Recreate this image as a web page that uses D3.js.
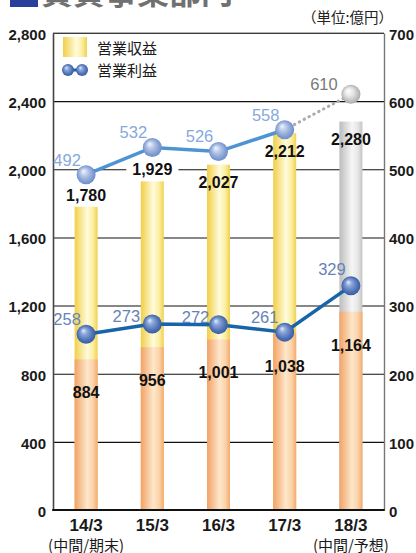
<!DOCTYPE html>
<html>
<head>
<meta charset="utf-8">
<script src="https://cdn.jsdelivr.net/npm/d3@7"></script>
<style>
  html, body { margin: 0; padding: 0; background: #fff; }
  svg { display: block; }
  text { font-family: "Liberation Sans", Arial, "Noto Sans CJK JP", sans-serif; }
  .jp { font-family: "Noto Sans CJK JP", "Noto Sans", sans-serif; }
</style>
</head>
<body>
<script>
// Fiscal periods and sub-captions
const categories = ["14/3", "15/3", "16/3", "17/3", "18/3"];
const subCaptions = ["(中間/期末)", "", "", "", "(中間/予想)"];

// Operating revenue (億円): full year and interim; the last full-year value is a forecast
const revenueFull = [1780, 1929, 2027, 2212, 2280];
const revenueInterim = [884, 956, 1001, 1038, 1164];

// Operating profit (億円): full year and interim; the last full-year value is a forecast
const profitFull = [492, 532, 526, 558, 610];
const profitInterim = [258, 273, 272, 261, 329];

// Axis ticks
const leftTicks = [0, 400, 800, 1200, 1600, 2000, 2400, 2800];
const rightTicks = [0, 100, 200, 300, 400, 500, 600, 700];

const W = 416, H = 553;
const plot = { left: 53, right: 384, top: 33, bottom: 510 };
const forecastIndex = 4;

const svg = d3.select("body").append("svg").attr("width", W).attr("height", H);
const defs = svg.append("defs");

function hGrad(id, stops) {
  const g = defs.append("linearGradient").attr("id", id)
    .attr("x1", "0%").attr("x2", "100%").attr("y1", "0%").attr("y2", "0%");
  stops.forEach(([o, c]) => g.append("stop").attr("offset", o).attr("stop-color", c));
}
function ball(id, stops) {
  const g = defs.append("radialGradient").attr("id", id)
    .attr("cx", "50%").attr("cy", "50%").attr("r", "55%")
    .attr("fx", "35%").attr("fy", "30%");
  stops.forEach(([o, c]) => g.append("stop").attr("offset", o).attr("stop-color", c));
}
hGrad("gYellow", [["0%", "#f1cf45"], ["55%", "#fffbdc"], ["80%", "#fbeea0"], ["100%", "#f0d04e"]]);
hGrad("gOrange", [["0%", "#f2a266"], ["55%", "#fde7cb"], ["80%", "#fbd3a8"], ["100%", "#f3aa70"]]);
hGrad("gGray", [["0%", "#bcbcbc"], ["55%", "#f6f6f6"], ["80%", "#e6e6e6"], ["100%", "#c4c4c4"]]);
ball("bLight", [["0%", "#f4f7fc"], ["35%", "#b7c8e8"], ["80%", "#7b98d0"], ["100%", "#6a88c4"]]);
ball("bDark", [["0%", "#e6edf9"], ["30%", "#8aa6da"], ["75%", "#4a6db2"], ["100%", "#34589f"]]);
ball("bGray", [["0%", "#ffffff"], ["40%", "#e6e6e6"], ["85%", "#b4b4b4"], ["100%", "#a2a2a2"]]);

const x = d3.scalePoint().domain(categories).range([plot.left, plot.right]).padding(0.5);
const yL = d3.scaleLinear().domain([0, 2800]).range([plot.bottom, plot.top]);
const yR = d3.scaleLinear().domain([0, 700]).range([plot.bottom, plot.top]);
const barW = 23;

// Title (runs off the top edge)
svg.append("rect").attr("x", 10).attr("y", -10).attr("width", 28).attr("height", 17).attr("fill", "#2a3f9c");
svg.append("text").attr("class", "jp").attr("x", 41).attr("y", 4)
  .attr("font-size", 32).attr("font-weight", "bold").attr("fill", "#707070")
  .text("賃貸事業部門");

svg.append("text").attr("class", "jp").attr("x", 393).attr("y", 23)
  .attr("text-anchor", "end").attr("font-size", 14.5).attr("fill", "#222")
  .text("（単位:億円）");

// Horizontal gridlines
svg.append("g")
  .attr("transform", `translate(${plot.left},0)`)
  .call(d3.axisLeft(yL).tickValues(leftTicks.filter(v => v > 0)).tickSize(-(plot.right - plot.left)).tickFormat(""))
  .call(g => g.select(".domain").remove())
  .call(g => g.selectAll("line").attr("stroke", "#111").attr("stroke-width", 1.1));

// Bars: full year (yellow, or gray for forecast) with the interim part (orange) in front
const bars = svg.append("g");
bars.selectAll("rect.full").data(categories).join("rect")
  .attr("x", d => x(d) - barW / 2)
  .attr("y", (d, i) => yL(revenueFull[i]))
  .attr("width", barW)
  .attr("height", (d, i) => plot.bottom - yL(revenueFull[i]))
  .attr("fill", (d, i) => i === forecastIndex ? "url(#gGray)" : "url(#gYellow)");
bars.selectAll("rect.half").data(categories).join("rect")
  .attr("x", d => x(d) - barW / 2)
  .attr("y", (d, i) => yL(revenueInterim[i]))
  .attr("width", barW)
  .attr("height", (d, i) => plot.bottom - yL(revenueInterim[i]))
  .attr("fill", "url(#gOrange)");

// Axes
const axL = svg.append("g").attr("transform", `translate(${plot.left},0)`)
  .call(d3.axisLeft(yL).tickValues(leftTicks).tickSize(0).tickPadding(7).tickFormat(d3.format(",")));
axL.select(".domain").attr("stroke", "#444").attr("stroke-width", 1.6);
axL.selectAll("text").attr("font-size", 15).attr("font-weight", "bold").attr("fill", "#1a1a1a")
  .attr("font-family", "'Liberation Sans', Arial, sans-serif").attr("dy", "0.42em");

const axR = svg.append("g").attr("transform", `translate(${plot.right},0)`)
  .call(d3.axisRight(yR).tickValues(rightTicks).tickSize(0).tickPadding(5).tickFormat(d3.format("d")));
axR.select(".domain").attr("stroke", "#777").attr("stroke-width", 1.4);
axR.selectAll("text").attr("font-size", 15).attr("font-weight", "bold").attr("fill", "#1a1a1a")
  .attr("font-family", "'Liberation Sans', Arial, sans-serif").attr("dy", "0.42em");

svg.append("line").attr("x1", plot.left).attr("x2", plot.right)
  .attr("y1", plot.top).attr("y2", plot.top).attr("stroke", "#666").attr("stroke-width", 1.2);
svg.append("line").attr("x1", plot.left - 0.8).attr("x2", plot.right + 0.7)
  .attr("y1", plot.bottom).attr("y2", plot.bottom).attr("stroke", "#111").attr("stroke-width", 2);

// Category labels
const xl = svg.append("g");
xl.selectAll("text.cat").data(categories).join("text")
  .attr("x", d => x(d)).attr("y", 531).attr("text-anchor", "middle")
  .attr("font-size", 17).attr("font-weight", "bold").attr("fill", "#1a1a1a").text(d => d);
xl.selectAll("text.sub").data(categories).join("text")
  .attr("class", "jp").attr("x", d => x(d)).attr("y", 550.5).attr("text-anchor", "middle")
  .attr("font-size", 15).attr("fill", "#1a1a1a").text((d, i) => subCaptions[i]);

// Full-year revenue labels: above the bar for the first two, inside the top otherwise
const fullDy = [-6, -6, 23.5, 24, 23.5];
const fmt = d3.format(",");
const revLab = svg.append("g");
revLab.selectAll("text").data(categories).join("text")
  .attr("x", d => x(d)).attr("y", (d, i) => yL(revenueFull[i]) + fullDy[i])
  .attr("text-anchor", "middle").attr("font-size", 16).attr("font-weight", "bold").attr("fill", "#111")
  .text((d, i) => fmt(revenueFull[i]))
  .each(function (d, i) {
    if (fullDy[i] < 0) {
      const b = this.getBBox();
      d3.select(this.parentNode).insert("rect", "text")
        .attr("x", b.x - 6).attr("y", b.y + 1).attr("width", b.width + 12).attr("height", b.height - 2)
        .attr("fill", "#fff");
    }
  });

// Interim revenue labels
svg.append("g").selectAll("text").data(categories).join("text")
  .attr("x", d => x(d)).attr("y", (d, i) => yL(revenueInterim[i]) + 39)
  .attr("text-anchor", "middle").attr("font-size", 16).attr("font-weight", "bold").attr("fill", "#111")
  .text((d, i) => fmt(revenueInterim[i]));

// Profit lines
const ptsFull = categories.map((c, i) => [x(c), yR(profitFull[i])]);
const ptsHalf = categories.map((c, i) => [x(c), yR(profitInterim[i])]);
const line = d3.line();
svg.append("path").attr("d", line(ptsFull.slice(forecastIndex - 1)))
  .attr("fill", "none").attr("stroke", "#aaaaaa").attr("stroke-width", 3)
  .attr("stroke-dasharray", "0.5 5").attr("stroke-linecap", "round");
svg.append("path").attr("d", line(ptsFull.slice(0, forecastIndex)))
  .attr("fill", "none").attr("stroke", "#4e93d2").attr("stroke-width", 3.5);
svg.append("path").attr("d", line(ptsHalf))
  .attr("fill", "none").attr("stroke", "#1764a8").attr("stroke-width", 3.5);

// Markers
const R = 9.5;
svg.append("g").selectAll("circle").data(ptsFull).join("circle")
  .attr("cx", d => d[0]).attr("cy", d => d[1]).attr("r", R)
  .attr("fill", (d, i) => i === forecastIndex ? "url(#bGray)" : "url(#bLight)");
svg.append("g").selectAll("circle").data(ptsHalf).join("circle")
  .attr("cx", d => d[0]).attr("cy", d => d[1]).attr("r", R)
  .attr("fill", "url(#bDark)");

// Profit value labels
const fullOff = [[-19, -9], [-19, -9], [-19, -9.5], [-19, -9], [-27, -4]];
const halfOff = [[-19, -9], [-26, -2], [-23, -2], [-20, -9], [-19, -11]];
svg.append("g").selectAll("text").data(ptsFull).join("text")
  .attr("x", (d, i) => d[0] + fullOff[i][0]).attr("y", (d, i) => d[1] + fullOff[i][1])
  .attr("text-anchor", "middle").attr("font-size", 16.5)
  .attr("fill", (d, i) => i === forecastIndex ? "#7a7a7a" : "#86a9dc")
  .text((d, i) => profitFull[i]);
svg.append("g").selectAll("text").data(ptsHalf).join("text")
  .attr("x", (d, i) => d[0] + halfOff[i][0]).attr("y", (d, i) => d[1] + halfOff[i][1])
  .attr("text-anchor", "middle").attr("font-size", 16.5).attr("fill", "#6683b6")
  .text((d, i) => profitInterim[i]);

// Legend
const lg = svg.append("g");
lg.append("rect").attr("x", 63).attr("y", 37).attr("width", 24).attr("height", 20).attr("fill", "url(#gYellow)");
lg.append("text").attr("class", "jp").attr("x", 97).attr("y", 54).attr("font-size", 15).attr("fill", "#1a1a1a").text("営業収益");
lg.append("line").attr("x1", 68).attr("x2", 82).attr("y1", 70).attr("y2", 70).attr("stroke", "#1764a8").attr("stroke-width", 3);
lg.append("circle").attr("cx", 68).attr("cy", 70).attr("r", 6).attr("fill", "url(#bDark)");
lg.append("circle").attr("cx", 82).attr("cy", 70).attr("r", 6).attr("fill", "url(#bDark)");
lg.append("text").attr("class", "jp").attr("x", 97).attr("y", 76).attr("font-size", 15).attr("fill", "#1a1a1a").text("営業利益");
</script>
</body>
</html>
